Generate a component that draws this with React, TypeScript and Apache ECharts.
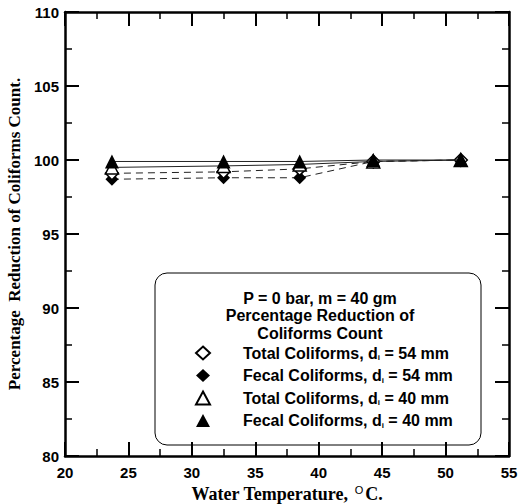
import React, { useEffect, useRef } from "react";
import * as echarts from "echarts";

const temps = [23.7, 32.5, 38.5, 44.3, 51.2];
const totalD54 = [99.1, 99.2, 99.4, 99.9, 100.0];
const fecalD54 = [98.7, 98.8, 98.8, 99.9, 100.0];
const totalD40 = [99.5, 99.6, 99.7, 99.9, 100.0];
const fecalD40 = [99.9, 99.9, 99.9, 100.0, 100.0];

const seriesNames = [
  "Total Coliforms, d_i = 54 mm",
  "Fecal Coliforms, d_i = 54 mm",
  "Total Coliforms, d_i = 40 mm",
  "Fecal Coliforms, d_i = 40 mm",
];
const legendTitle = ["P = 0 bar, m = 40 gm", "Percentage Reduction of", "Coliforms Count"];

const pairs = (ys: number[]) => temps.map((x, i) => [x, ys[i]]);

export default function App() {
  const ref = useRef<HTMLDivElement>(null);
  useEffect(() => {
    if (!ref.current) return;
    document.body.style.margin = "0";
    const chart = echarts.init(ref.current, null, { renderer: "svg" });
    const sans = "Liberation Sans, Arial, sans-serif";
    const serif = "Liberation Serif, Times New Roman, serif";
    const axisCommon = {
      type: "value" as const,
      axisLine: { show: true, onZero: false, lineStyle: { color: "#000", width: 2.5 } },
      axisTick: { show: true, inside: true, length: 14, lineStyle: { color: "#000", width: 2 } },
      minorTick: { show: true, splitNumber: 2, length: 7, lineStyle: { color: "#000", width: 1.5 } },
      splitLine: { show: false },
      minorSplitLine: { show: false },
    };
    const mk = (
      name: string,
      data: number[][],
      symbol: string,
      size: number,
      filled: boolean,
      dashed: boolean,
      z: number
    ) => ({
      name,
      type: "line",
      data,
      symbol,
      symbolSize: size,
      z,
      lineStyle: { color: "#222", width: 1, type: dashed ? [7, 5] : "solid" },
      itemStyle: {
        color: filled ? "#000" : "#fff",
        borderColor: "#000",
        borderWidth: filled ? 0 : 1.5,
      },
      emphasis: { disabled: true },
    });
    const legendFormatter = (name: string) => {
      const parts = name.split("_i");
      return `{gap|}{t|${parts[0]}}{sub|i}{t|${parts[1]}}`;
    };
    chart.setOption({
      animation: false,
      grid: { left: 65, right: 11, top: 12, bottom: 48, outerBoundsMode: "none", containLabel: false },
      xAxis: [
        {
          ...axisCommon,
          min: 20,
          max: 55,
          interval: 5,
          position: "bottom",
          axisLabel: { color: "#000", fontFamily: sans, fontWeight: "bold", fontSize: 15, margin: 9 },
          name: "{a|Water Temperature, }{sup|O}{a|C.}",
          nameLocation: "middle",
          nameGap: 23,
          nameTextStyle: {
            rich: {
              a: { fontFamily: serif, fontWeight: "bold", fontSize: 18, color: "#000" },
              sup: { fontFamily: sans, fontSize: 11, color: "#000", verticalAlign: "top", padding: [0, 2, 8, 2] },
            },
          },
        },
        {
          ...axisCommon,
          min: 20,
          max: 55,
          interval: 5,
          position: "top",
          axisLabel: { show: false },
        },
      ],
      yAxis: [
        {
          ...axisCommon,
          min: 80,
          max: 110,
          interval: 5,
          position: "left",
          axisLabel: { color: "#000", fontFamily: sans, fontWeight: "bold", fontSize: 15, margin: 6 },
          name: "Percentage  Reduction of Coliforms Count.",
          nameLocation: "middle",
          nameGap: 42,
          nameTextStyle: { fontFamily: serif, fontWeight: "bold", fontSize: 17, color: "#000" },
        },
        {
          ...axisCommon,
          min: 80,
          max: 110,
          interval: 5,
          position: "right",
          axisLabel: { show: false },
        },
      ],
      legend: {
        orient: "vertical",
        left: 195,
        top: 345,
        padding: 0,
        z: 10,
        itemWidth: 14,
        itemHeight: 13,
        itemGap: 6,
        selectedMode: false,
        formatter: legendFormatter,
        data: [
          { name: seriesNames[0], icon: "diamond" },
          { name: seriesNames[1], icon: "diamond" },
          { name: seriesNames[2], icon: "triangle" },
          { name: seriesNames[3], icon: "triangle" },
        ],
        textStyle: {
          rich: {
            gap: { width: 28 },
            t: { fontFamily: sans, fontWeight: "bold", fontSize: 16, lineHeight: 17, color: "#000" },
            sub: { fontFamily: sans, fontWeight: "bold", fontSize: 8, color: "#000", verticalAlign: "bottom", padding: [6, 0, 0, 0] },
          },
        },
      },
      graphic: [
        {
          type: "rect",
          shape: { x: 155, y: 273, width: 326, height: 172, r: 12 },
          style: { fill: "#fff", stroke: "#000", lineWidth: 1 },
          z: 0,
        },
        ...legendTitle.map((s, i) => ({
          type: "text",
          x: 320,
          y: 298 + i * 17.8,
          z: 6,
          style: {
            text: s,
            fontFamily: sans,
            fontWeight: "bold",
            fontSize: 16,
            fill: "#000",
            align: "center",
            verticalAlign: "middle",
          },
        })),
      ],
      series: [
        mk(seriesNames[1], pairs(fecalD54), "diamond", 13, true, true, 2),
        mk(seriesNames[0], pairs(totalD54), "diamond", 13, false, true, 3),
        mk(seriesNames[2], pairs(totalD40), "triangle", 13, false, false, 4),
        mk(seriesNames[3], pairs(fecalD40), "triangle", 14, true, false, 5),
      ],
    });
    return () => chart.dispose();
  }, []);
  return <div ref={ref} style={{ width: 520, height: 504 }} />;
}
